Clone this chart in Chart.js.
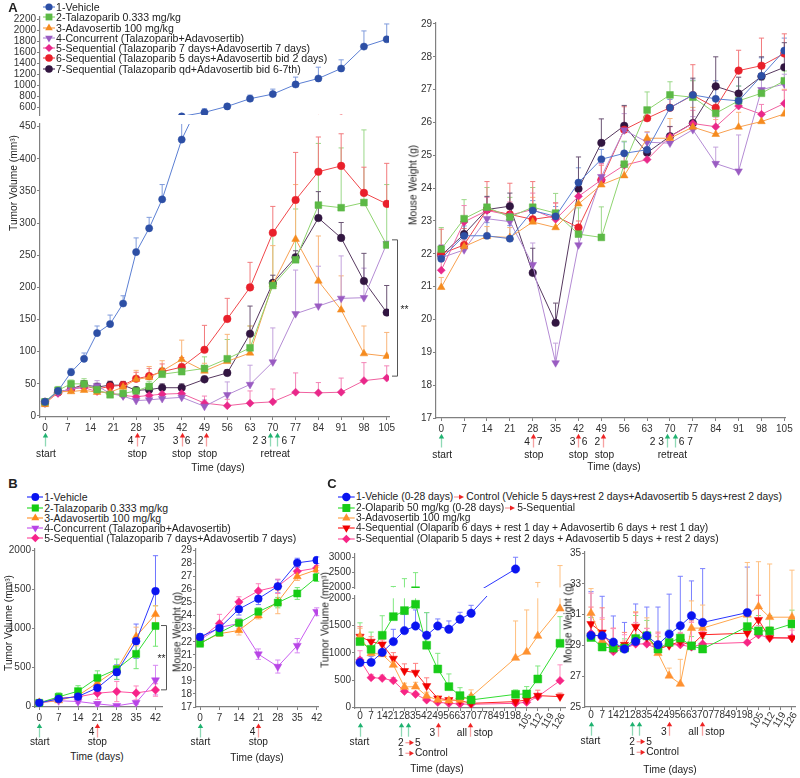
<!DOCTYPE html>
<html>
<head>
<meta charset="utf-8">
<script src="https://cdn.jsdelivr.net/npm/chart.js@4.4.1/dist/chart.umd.min.js"></script>
<style>
  body { margin: 0; background: #fff; font-family: "Liberation Sans", Arial, sans-serif; color: #222; }
  #fig { position: relative; width: 800px; height: 778px; overflow: hidden; }
  #fig canvas { position: absolute; }
  .t { position: absolute; white-space: nowrap; font-size: 10.2px; color: #222; }
  .yt { transform: translate(-50%, -50%) rotate(-90deg); }
  .xt { transform: translate(-50%, -50%); }
  .pl { position: absolute; font-weight: bold; font-size: 13px; transform: translate(-50%, -50%); }
  .lg { position: absolute; white-space: nowrap; color: #222; }
  .lg div { position: absolute; left: 0; height: 10px; line-height: 10px; display: flex; align-items: center; }
  .lg svg { flex: none; margin-right: 1px; }
</style>
</head>
<body>
<div id="fig"></div>
<script>
// ---------- panel A : talazoparib + adavosertib ----------
const daysA = [0, 4, 8, 12, 16, 20, 24, 28, 32, 36, 42, 49, 56, 63, 70, 77, 84, 91, 98, 105];
const weeksA = [0, 7, 14, 21, 28, 35, 42, 49, 56, 63, 70, 77, 84, 91, 98, 105];
const namesA = [
  '1-Vehicle',
  '2-Talazoparib 0.333 mg/kg',
  '3-Adavosertib 100 mg/kg',
  '4-Concurrent (Talazoparib+Adavosertib)',
  '5-Sequential (Talazoparib 7 days+Adavosertib 7 days)',
  '6-Sequential (Talazoparib 5 days+Adavosertib bid 2 days)',
  '7-Sequential (Talazoparib qd+Adavosertib bid 6-7th)'
];
const volA = [
  [22, 39, 68, 89, 129, 143, 175, 255, 292, 337, 430, 503, 612, 752, 836, 1012, 1121, 1303, 1703, 1836],
  [22, 40, 50, 50, 41, 33, 35, 39, 46, 65, 69, 74, 89, 106, 203, 243, 328, 324, 332, 266],
  [18, 38, 38, 40, 37, 37, 45, 57, 60, 70, 88, 70, 85, 98, 205, 275, 210, 165, 97, 93],
  [20, 37, 42, 46, 47, 35, 31, 24, 25, 27, 29, 15, 33, 49, 84, 159, 171, 183, 184, 268],
  [22, 35, 42, 44, 38, 36, 32, 30, 32, 34, 35, 20, 16, 20, 22, 37, 36, 37, 55, 59],
  [20, 37, 42, 47, 42, 46, 48, 58, 62, 69, 76, 103, 151, 200, 285, 336, 380, 389, 347, 330],
  [22, 37, 42, 49, 45, 48, 48, 40, 41, 44, 44, 57, 67, 128, 207, 247, 308, 277, 210, 161]
];
const volErrA = [
  [3, 5, 6, 9, 11, 14, 12, 22, 17, 23, 39, 67, 43, 66, 91, 134, 206, 158, 285, 279],
  [3, 6, 6, 8, 7, 5, 5, 6, 8, 10, 12, 18, 30, 34, 85, 79, 96, 93, 113, 94],
  [3, 5, 5, 6, 6, 6, 8, 14, 17, 16, 30, 12, 42, 42, 60, 85, 70, 53, 43, 37],
  [3, 5, 6, 6, 8, 5, 4, 5, 5, 5, 6, 10, 20, 30, 53, 68, 62, 66, 46, 4],
  [3, 4, 5, 5, 5, 4, 4, 5, 5, 5, 6, 11, 10, 19, 20, 30, 16, 22, 28, 19],
  [3, 5, 6, 8, 8, 8, 6, 10, 12, 12, 15, 38, 32, 39, 41, 74, 54, 50, 40, 63],
  [3, 4, 5, 6, 6, 6, 5, 5, 6, 6, 6, 5, 5, 43, 12, 10, 41, 24, 43, 42]
];
const wtA = [
  [21.85, 22.55, 22.55, 22.46, 23.32, 23.14, 24.17, 24.88, 25.06, 25.17, 26.45, 26.84, 26.72, 26.66, 27.42, 28.19],
  [22.14, 23.07, 23.42, 23.12, 23.42, 23.24, 22.6, 22.5, 24.73, 26.38, 26.84, 26.77, 26.28, 26.66, 26.89, 27.27],
  [20.98, 22.22, 22.53, 22.5, 22.97, 22.8, 23.52, 24.1, 24.38, 25.52, 25.52, 25.86, 25.64, 25.86, 26.03, 26.26],
  [21.88, 22.12, 23.07, 22.98, 21.67, 18.68, 22.27, 24.35, 25.77, 25.4, 25.37, 25.78, 24.75, 24.52, 27.0, 27.17],
  [21.5, 22.97, 23.32, 23.18, 23.35, 23.05, 23.75, 24.25, 24.7, 24.87, 25.57, 25.97, 25.87, 26.5, 26.25, 26.58],
  [22.0, 22.27, 23.35, 23.2, 23.05, 23.15, 22.8, 24.25, 25.78, 26.13, 26.45, 26.83, 26.45, 27.58, 27.73, 28.1],
  [21.95, 22.6, 23.35, 23.45, 21.42, 19.9, 23.98, 25.38, 25.9, 25.08, 25.58, 25.98, 27.1, 26.88, 27.4, 27.68]
];
const wtErrA = [
  [0.3, 0.3, 0.4, 0.4, 0.3, 0.3, 0.45, 0.3, 0.35, 0.3, 0.25, 0.45, 0.55, 0.45, 0.55, 0.38],
  [0.66, 0.58, 0.6, 0.6, 0.6, 0.6, 0.8, 0.93, 0.7, 0.55, 0.4, 0.5, 0.5, 0.45, 0.4, 0.3],
  [0.3, 0.2, 0.3, 0.3, 0.75, 0.3, 0.4, 0.3, 0.3, 0.2, 0.6, 0.6, 0.45, 0.45, 0.27, 0.75],
  [0.4, 0.3, 0.3, 0.3, 0.66, 0.6, 0.5, 0.4, 0.5, 0.3, 0.3, 0.4, 0.5, 1.1, 0.3, 0.3],
  [0.3, 0.5, 0.4, 0.4, 0.5, 0.5, 0.4, 0.5, 0.4, 0.3, 0.3, 0.4, 0.3, 0.4, 0.3, 0.4],
  [0.75, 0.5, 0.85, 0.95, 1.15, 0.4, 0.2, 0.45, 0.7, 0.3, 0.35, 0.93, 0.3, 0.62, 0.84, 0.6],
  [0.3, 0.35, 0.4, 0.4, 0.75, 0.6, 0.97, 0.73, 0.62, 0.3, 0.3, 1.37, 0.9, 0.5, 0.6, 0.75]
];

// ---------- panel B ----------
const daysB = [0, 7, 14, 21, 28, 35, 42];
const namesB = [
  '1-Vehicle',
  '2-Talazoparib 0.333 mg/kg',
  '3-Adavosertib 100 mg/kg',
  '4-Concurrent (Talazoparib+Adavosertib)',
  '5-Sequential (Talazoparib 7 days+Adavosertib 7 days)'
];
const volB = [
  [43, 94, 124, 236, 437, 835, 1478],
  [43, 120, 193, 364, 475, 672, 1030],
  [48, 73, 137, 300, 471, 895, 1180],
  [45, 70, 60, 30, 5, 45, 335],
  [45, 103, 120, 167, 188, 170, 208]
];
const volErrB = [
  [20, 25, 40, 55, 95, 220, 455],
  [20, 50, 70, 90, 130, 190, 260],
  [15, 20, 30, 40, 50, 120, 110],
  [15, 20, 25, 30, 10, 20, 190],
  [15, 30, 60, 80, 130, 90, 80]
];
const wtB = [
  [22.37, 23.05, 24.5, 25.3, 26.25, 28.05, 28.25],
  [21.85, 22.7, 23.45, 24.3, 25.0, 25.7, 26.93],
  [21.9, 22.62, 22.87, 24.0, 25.05, 27.0, 27.52],
  [22.15, 23.1, 23.4, 21.05, 20.1, 21.7, 24.3],
  [22.2, 23.4, 25.05, 25.9, 26.25, 27.4, 27.65]
];
const wtErrB = [
  [0.25, 0.4, 0.45, 0.45, 0.5, 0.35, 0.25],
  [0.15, 0.2, 0.3, 0.3, 0.4, 0.45, 0.3],
  [0.15, 0.2, 0.35, 0.25, 0.9, 0.3, 0.2],
  [0.2, 0.3, 0.4, 0.4, 0.5, 0.55, 0.3],
  [0.2, 0.7, 0.4, 0.55, 0.55, 0.35, 0.2]
];

// ---------- panel C : olaparib + adavosertib ----------
const daysCVehicle = [0, 7, 14, 21, 28, 35, 42, 49, 56, 63, 70, 98];
const daysC = [0, 7, 14, 21, 28, 35, 42, 49, 56, 63, 70, 98, 105, 112, 126];
const tickDaysC = [0, 7, 14, 21, 28, 35, 42, 49, 56, 63, 70, 77, 84, 91, 98, 105, 112, 119, 126];
const namesC = [
  '1-Vehicle (0-28 days) →Control (Vehicle 5 days+rest 2 days+Adavosertib 5 days+rest 2 days)',
  '2-Olaparib 50 mg/kg (0-28 days) →5-Sequential',
  '3-Adavosertib 100 mg/kg',
  '4-Sequential (Olaparib 6 days + rest 1 day + Adavosertib 6 days + rest 1 day)',
  '5-Sequential (Olaparib 5 days + rest 2 days + Adavosertib 5 days + rest 2 days)'
];
const volC = [
  [820, 825, 1009, 1205, 1407, 1492, 1321, 1492, 1431, 1615, 1725, 2610],
  [1205, 1064, 1321, 1663, 1774, 1890, 1138, 703, 379, 214, 135, 238, 245, 520, 1174],
  [1300, 990, 972, 777, 373, 379, 208, 135, 122, 135, 196, 905, 1015, 1309, 1810],
  [1297, 1205, 1156, 893, 667, 636, 391, 165, 135, 122, 73, 104, 135, 214, 196],
  [868, 544, 532, 489, 294, 239, 135, 92, 73, 61, 55, 73, 92, 196, 489]
];
const volErrC = [
  [90, 110, 130, 226, 299, 294, 416, 129, 153, 128, 146, 390],
  [345, 316, 359, 367, 516, 600, 599, 287, 233, 146, 100, 80, 135, 238, 489],
  [150, 60, 40, 60, 70, 80, 70, 50, 40, 60, 124, 679, 771, 855, 914],
  [183, 90, 80, 110, 130, 170, 150, 30, 30, 30, 30, 30, 40, 100, 65],
  [170, 60, 60, 55, 40, 35, 30, 20, 15, 15, 10, 20, 20, 30, 290]
];
const wtC = [
  [29.65, 29.64, 29.22, 28.77, 29.26, 29.63, 29.05, 29.74, 30.28, 30.93, 30.5, 31.14],
  [29.52, 28.9, 28.83, 28.83, 29.45, 29.63, 28.77, 29.2, 29.48, 28.98, 28.77, 30.23, 29.95, 29.95, 30.4],
  [31.1, 29.3, 28.9, 28.8, 29.5, 29.6, 28.5, 27.03, 26.5, 30.13, 30.13, 31.0, 31.53, 30.84, 30.84],
  [30.4, 29.85, 28.83, 29.05, 30.23, 29.52, 28.77, 29.0, 29.26, 29.0, 29.7, 29.8, 30.67, 29.5, 29.48],
  [29.8, 29.5, 28.6, 28.8, 29.1, 29.1, 28.77, 29.05, 29.05, 28.9, 29.1, 29.2, 29.7, 29.5, 29.5]
];
const wtErrC = [
  [2.85, 2.56, 1.7, 1.73, 2.44, 1.87, 2.45, 2.6, 3.22, 2.27, 3.5, 2.96],
  [1.3, 0.8, 0.6, 0.6, 1.5, 1.0, 0.8, 0.8, 0.7, 0.6, 0.7, 1.0, 1.0, 1.0, 0.9],
  [1.6, 1.4, 1.2, 0.5, 1.7, 1.2, 1.1, 0.5, 1.6, 1.77, 1.5, 3.4, 2.92, 3.46, 3.06],
  [1.1, 1.6, 1.3, 0.8, 0.9, 0.6, 1.1, 0.6, 0.5, 1.6, 0.5, 0.4, 1.6, 0.7, 0.7],
  [2.6, 1.3, 1.5, 0.9, 1.4, 1.0, 1.0, 0.8, 0.8, 1.6, 0.8, 0.6, 0.6, 0.6, 0.5]
];

// ---------- styles ----------
const styleA = [
  {line: '#5b7fd3', dot: '#2d4fa5', err: '#7f9bdc', shape: 'circle', r: 3.6},
  {line: '#8ed46f', dot: '#5cb946', err: '#9bd889', shape: 'rect', r: 4.8},
  {line: '#f8a050', dot: '#f58b1f', err: '#f9b57a', shape: 'triangle', r: 4.4},
  {line: '#b48bd4', dot: '#9a5cc2', err: '#c3a2dc', shape: 'triangle', rot: 180, r: 4.4},
  {line: '#f0609f', dot: '#e9288a', err: '#f384b6', shape: 'rectRot', r: 4},
  {line: '#f0464a', dot: '#e9202b', err: '#f27a7d', shape: 'circle', r: 3.8},
  {line: '#56385f', dot: '#321641', err: '#6b5474', shape: 'circle', r: 3.8}
];
const styleB = [
  {line: '#2a35ff', dot: '#0a14f0', err: '#6f76ff', shape: 'circle', r: 3.9},
  {line: '#33dc33', dot: '#14cc14', err: '#74e674', shape: 'rect', r: 5},
  {line: '#ff9a3a', dot: '#ff8a1c', err: '#ffb878', shape: 'triangle', r: 4.6},
  {line: '#c95cf0', dot: '#b845e6', err: '#d78af3', shape: 'triangle', rot: 180, r: 4.6},
  {line: '#ff4fa0', dot: '#f7238a', err: '#ff86bd', shape: 'rectRot', r: 4.2}
];
const styleC = [
  {line: '#2a35ff', dot: '#0a14f0', err: '#7a80ff', shape: 'circle', r: 4.2},
  {line: '#33dd33', dot: '#18cc18', err: '#80e880', shape: 'rect', r: 5.6},
  {line: '#ffa64d', dot: '#ff9130', err: '#ffc080', shape: 'triangle', r: 4.8},
  {line: '#ff2020', dot: '#f00000', err: '#ff8080', shape: 'triangle', rot: 180, r: 4.8},
  {line: '#ff4f9a', dot: '#f72585', err: '#ff90c0', shape: 'rectRot', r: 4.2}
];
const GREEN = ['#8fd9b6', '#1fb270'];
const RED = ['#f7a1a1', '#ee2424'];

Chart.defaults.font.family = '"Liberation Sans", Arial, sans-serif';
Chart.defaults.font.size = 10;
Chart.defaults.color = '#333';

const fig = document.getElementById('fig');

function makeSets(dayLists, vals, errs, styles) {
  return vals.map((row, k) => ({
    data: row.map((v, i) => ({x: dayLists[k][i], y: v})),
    errs: errs[k],
    errColor: styles[k].err,
    borderColor: styles[k].line,
    borderWidth: 1,
    pointStyle: styles[k].shape,
    pointRotation: styles[k].rot || 0,
    pointRadius: styles[k].r,
    pointBackgroundColor: styles[k].dot,
    pointBorderColor: styles[k].dot,
    pointBorderWidth: 0.5,
    tension: 0,
    fill: false
  }));
}

// error bars, clipped to each scale's value range (broken axes are two charts);
// "lim" hands the part of a bar above the break over to the upper chart
const errPlugin = {
  id: 'errbars',
  beforeDatasetsDraw(chart) {
    const ctx = chart.ctx, ys = chart.scales.y;
    const o = chart.options.plugins.errbars;
    const both = o.mode === 'both';
    const yMin = o.from !== undefined ? Math.max(ys.min, o.from) : ys.min;
    const yMax = o.to !== undefined ? Math.min(ys.max, o.to) : ys.max;
    chart.data.datasets.forEach((ds, k) => {
      const meta = chart.getDatasetMeta(k);
      ctx.save();
      ctx.strokeStyle = ds.errColor;
      ctx.lineWidth = 1;
      ds.data.forEach((p, i) => {
        const e = ds.errs[i];
        const lo = both ? p.y - e : p.y, hi = p.y + e;
        const a = Math.max(lo, yMin), b = Math.min(hi, yMax);
        if (a >= b) return;
        const x = meta.data[i].x;
        ctx.beginPath();
        ctx.moveTo(x, ys.getPixelForValue(a));
        ctx.lineTo(x, ys.getPixelForValue(b));
        if (hi <= yMax) {
          const y = ys.getPixelForValue(hi);
          ctx.moveTo(x - 2.6, y); ctx.lineTo(x + 2.6, y);
        }
        if (both && lo >= yMin) {
          const y = ys.getPixelForValue(lo);
          ctx.moveTo(x - 2.6, y); ctx.lineTo(x + 2.6, y);
        }
        ctx.stroke();
      });
      ctx.restore();
    });
  }
};

// treatment arrows, notes under the time axis, significance bracket, slanted ticks
const marksPlugin = {
  id: 'marks',
  afterDraw(chart) {
    const m = chart.options.plugins.marks;
    if (!m || !m.on) return;
    const ctx = chart.ctx, xs = chart.scales.x, ys = chart.scales.y, a = chart.chartArea;
    ctx.save();
    ctx.font = '10.2px "Liberation Sans", Arial, sans-serif';
    ctx.textBaseline = 'middle';
    (m.up || []).forEach(([d, col]) => {
      const x = Math.round(xs.getPixelForValue(d)) + 0.5;
      const yh = a.bottom + m.upY[0], yt = a.bottom + m.upY[1];
      ctx.strokeStyle = col[0]; ctx.lineWidth = 1.3;
      ctx.beginPath(); ctx.moveTo(x, yt); ctx.lineTo(x, yh + 3); ctx.stroke();
      ctx.fillStyle = col[1];
      ctx.beginPath(); ctx.moveTo(x, yh); ctx.lineTo(x - 2.7, yh + 4.6); ctx.lineTo(x + 2.7, yh + 4.6); ctx.closePath(); ctx.fill();
    });
    (m.right || []).forEach(([d, dx, dy]) => {
      const x = xs.getPixelForValue(d) + dx, y = a.bottom + dy;
      ctx.strokeStyle = RED[0]; ctx.lineWidth = 1.3;
      ctx.beginPath(); ctx.moveTo(x, y); ctx.lineTo(x + 5, y); ctx.stroke();
      ctx.fillStyle = RED[1];
      ctx.beginPath(); ctx.moveTo(x + 8.5, y); ctx.lineTo(x + 4, y - 2.6); ctx.lineTo(x + 4, y + 2.6); ctx.closePath(); ctx.fill();
    });
    ctx.fillStyle = '#222';
    (m.txt || []).forEach(([s, d, dx, dy, al]) => {
      ctx.textAlign = al || 'center';
      ctx.fillText(s, xs.getPixelForValue(d) + dx, a.bottom + dy);
    });
    if (m.bracket) {
      const [dx, v1, v2, sdx] = m.bracket;
      const x = a.right + dx, y1 = ys.getPixelForValue(v1), y2 = ys.getPixelForValue(v2);
      ctx.strokeStyle = '#555'; ctx.lineWidth = 1;
      ctx.beginPath();
      ctx.moveTo(x - 5, y1); ctx.lineTo(x + 0.5, y1); ctx.lineTo(x + 0.5, y2); ctx.lineTo(x - 5, y2);
      ctx.stroke();
      ctx.textAlign = 'center';
      ctx.fillText('**', x + sdx, (y1 + y2) / 2 + 2);
    }
    if (m.rot) {
      ctx.fillStyle = '#333';
      ctx.font = '10px "Liberation Sans", Arial, sans-serif';
      m.rot.forEach(v => {
        ctx.save();
        ctx.translate(xs.getPixelForValue(v) + 3, a.bottom + 6);
        ctx.rotate(-Math.PI * 0.33);
        ctx.textAlign = 'right';
        ctx.fillText(String(v), 0, 0);
        ctx.restore();
      });
    }
    ctx.restore();
  }
};

function axis(min, max, ticks, opt) {
  return {
    type: 'linear', min: min, max: max, display: opt.show !== false,
    afterBuildTicks: s => { s.ticks = ticks.map(v => ({value: v})); },
    border: {display: true, color: '#808080', width: 1.2},
    grid: {display: true, drawOnChartArea: false, drawTicks: true, tickLength: 3, color: '#808080', tickColor: '#808080'},
    ticks: {
      autoSkip: false, maxRotation: 0, minRotation: 0, padding: opt.pad === undefined ? 1 : opt.pad,
      color: '#333', font: {size: 10},
      callback: opt.cb || (v => String(v))
    }
  };
}

function makeChart(box, pads, datasets, xAx, yAx, marks, errOpts) {
  const [l, t, r, b] = box;
  const [pl, pt, pr, pb] = pads;
  const hidden = xAx.display === false;
  const cv = document.createElement('canvas');
  cv.width = Math.round(r - l + pl + pr);
  cv.height = Math.round(b - t + pt + pb);
  cv.style.left = (l - pl) + 'px';
  cv.style.top = (t - pt) + 'px';
  fig.appendChild(cv);
  if (!hidden) xAx.afterFit = s => { s.height = pb; };
  yAx.afterFit = s => { s.width = pl; };
  return new Chart(cv, {
    type: 'line',
    data: {datasets: datasets},
    options: {
      responsive: false, animation: false, events: [],
      layout: {padding: {left: 0, top: pt, right: pr, bottom: hidden ? pb : 0}},
      plugins: {
        legend: {display: false}, tooltip: {enabled: false},
        errbars: errOpts || {mode: 'up'},
        marks: marks || {on: false}
      },
      scales: {x: xAx, y: yAx}
    },
    plugins: [errPlugin, marksPlugin]
  });
}

const range = (a, b, s) => { const out = []; for (let v = a; v <= b + 1e-9; v += s) out.push(v); return out; };
const listA = namesA.map(() => daysA);
const listWA = namesA.map(() => weeksA);
const listB = namesB.map(() => daysB);
const listC = namesC.map((n, i) => i === 0 ? daysCVehicle : daysC);

// notes under the A time axes
const notesA = {
  on: true,
  upY: [15.8, 29.5],
  up: [[0, GREEN], [28.2, RED], [42, RED], [49.5, RED], [69.2, GREEN], [71.4, GREEN]],
  txt: [
    ['4', 28.2, -6.3, 24.5], ['7', 28.2, 6.3, 24.5],
    ['3', 42, -6, 24.5], ['6', 42, 6, 24.5],
    ['2', 49.5, -5.6, 24.5],
    ['2 3', 69.2, -3.5, 24.5, 'right'], ['6 7', 71.4, 4.2, 24.5, 'left'],
    ['start', 0, 1, 37], ['stop', 28.2, 0.5, 37], ['stop', 42, 0, 37], ['stop', 49.5, 1.5, 37],
    ['retreat', 69.2, 5, 37]
  ]
};

// A : tumour volume, upper and lower part of the broken axis
makeChart([40, 17, 389, 115.3], [40, 10, 24, 8], makeSets(listA, volA, volErrA, styleA),
  axis(-1.54, 105.7, weeksA, {show: false}),
  axis(455, 2242, range(600, 2200, 200), {}));
makeChart([40, 124, 389, 416.7], [40, 10, 24, 44], makeSets(listA, volA, volErrA, styleA),
  axis(-1.54, 105.7, weeksA, {pad: 2}),
  axis(-1.56, 454.2, range(0, 450, 50), {}),
  Object.assign({bracket: [8, 62, 274, 7.5]}, notesA));
// A : mouse weight
makeChart([436, 23, 785, 418.3], [40, 10, 14, 44], makeSets(listWA, wtA, wtErrA, styleA),
  axis(-1.6, 105.2, weeksA, {pad: 2}),
  axis(17, 29.03, range(17, 29, 1), {}),
  notesA);

// B
const notesB = {
  on: true,
  upY: [16.5, 30.5],
  up: [[0, GREEN], [21, RED]],
  txt: [['4', 21, -5.8, 25], ['start', 0, 0.5, 35.5], ['stop', 21, 0, 35.5]]
};
makeChart([35, 548.5, 162, 706.5], [40, 10, 14, 40], makeSets(listB, volB, volErrB, styleB),
  axis(-1.55, 44.35, daysB, {pad: 2}),
  axis(-10.3, 2019, [0, 500, 1000, 1500, 2000], {}),
  Object.assign({bracket: [4, 210, 1036, -4.5]}, notesB), {mode: 'both'});
makeChart([196, 548.5, 318, 706.7], [40, 10, 14, 40], makeSets(listB, wtB, wtErrB, styleB),
  axis(-1.44, 42.47, daysB, {pad: 2}),
  axis(17, 29.11, range(17, 29, 1), {}),
  notesB, {mode: 'both'});

// C
const cbC = v => (v <= 98 ? String(v) : '');
const notesC = {
  on: true,
  upY: [14.7, 28.7],
  up: [[0, GREEN], [25.8, GREEN], [30.4, GREEN], [49, RED], [69.6, RED]],
  right: [[25.8, 4.5, 34.7], [25.8, 4.5, 45.3]],
  txt: [
    ['3', 49, -5.4, 24.7], ['all', 69.6, -3.5, 24.7, 'right'], ['stop', 69.6, 3.3, 24.7, 'left'],
    ['start', 0, -0.5, 33.7],
    ['2', 25.8, 0, 34.7], ['5', 25.8, 14, 34.7, 'left'],
    ['1', 25.8, 0, 45.3], ['Control', 25.8, 14, 45.3, 'left']
  ],
  rot: [105, 112, 119, 126]
};
makeChart([355, 554, 565, 588.3], [40, 10, 14, 8], makeSets(listC, volC, volErrC, styleC),
  axis(-3.15, 129.15, tickDaysC, {show: false}),
  axis(1980, 3108, [2000, 2500, 3000], {}),
  null, {mode: 'up', from: 2000});
makeChart([355, 596, 565, 708], [40, 10, 14, 52], makeSets(listC, volC, volErrC, styleC),
  axis(-3.15, 129.15, tickDaysC, {pad: -1, cb: cbC}),
  axis(-13, 2042, [0, 500, 1000, 1500, 2000], {}),
  notesC, {mode: 'up', to: 2000});
makeChart([585, 552, 795, 707.3], [40, 10, 10, 52], makeSets(listC, wtC, wtErrC, styleC),
  axis(-3.76, 127.9, tickDaysC, {pad: -1, cb: cbC}),
  axis(25, 35.08, [25, 27, 29, 31, 33, 35], {}),
  notesC);

// ---------- legends and titles (html text) ----------
function markSvg(st, w) {
  const c = w / 2, y = 5, r = st.r;
  let s;
  if (st.shape === 'circle') {
    s = `<circle cx="${c}" cy="${y}" r="${r}" fill="${st.dot}"/>`;
  } else if (st.shape === 'rect') {
    const h = r * Math.SQRT1_2;
    s = `<rect x="${c - h}" y="${y - h}" width="${2 * h}" height="${2 * h}" fill="${st.dot}"/>`;
  } else if (st.shape === 'triangle') {
    const k = st.rot ? -1 : 1;
    s = `<polygon points="${c},${y - k * r} ${c - r * 0.866},${y + k * r / 2} ${c + r * 0.866},${y + k * r / 2}" fill="${st.dot}"/>`;
  } else {
    s = `<polygon points="${c},${y - r} ${c + r},${y} ${c},${y + r} ${c - r},${y}" fill="${st.dot}"/>`;
  }
  return `<svg width="${w}" height="10"><line x1="0" y1="5" x2="${w}" y2="5" stroke="${st.line}" stroke-width="1.2"/>${s}</svg>`;
}
const arrowSvg = `<svg width="11" height="10" style="margin:0 1px 0 1px"><line x1="0" y1="5" x2="6" y2="5" stroke="${RED[0]}" stroke-width="1.3"/><polygon points="10,5 5,2.4 5,7.6" fill="${RED[1]}"/></svg>`;

function legend(x, y, step, w, names, styles, size) {
  const box = document.createElement('div');
  box.className = 'lg';
  box.style.left = x + 'px';
  box.style.top = (y - 5) + 'px';
  box.style.fontSize = size + 'px';
  names.forEach((n, i) => {
    const row = document.createElement('div');
    row.style.top = (i * step) + 'px';
    row.innerHTML = markSvg(styles[i], w) + '<span>' + n.split('→').join('</span>' + arrowSvg + '<span>') + '</span>';
    box.appendChild(row);
  });
  fig.appendChild(box);
}
legend(43, 7, 10.25, 12, namesA, styleA, 10.6);
legend(26.7, 497.3, 10.25, 16.6, namesB, styleB, 10.5);
legend(338.3, 497.3, 10.4, 16.7, namesC, styleC, 10.3);

const texts = [
  ['A', 13, 7, 'pl'], ['B', 13, 483, 'pl'], ['C', 332, 483, 'pl'],
  ['Tumor Volume (mm³)', 13, 183, 't yt'], ['Mouse Weight (g)', 413, 185, 't yt'],
  ['Tumor Volume (mm³)', 8, 623, 't yt'], ['Mouse Weight (g)', 177, 632, 't yt'],
  ['Tumor Volume (mm³)', 325, 620, 't yt'], ['Mouse Weight (g)', 568, 623, 't yt'],
  ['Time (days)', 218, 467, 't xt'], ['Time (days)', 614, 466, 't xt'],
  ['Time (days)', 97, 756, 't xt'], ['Time (days)', 257, 757, 't xt'],
  ['Time (days)', 437, 767.5, 't xt'], ['Time (days)', 670, 769, 't xt']
];
texts.forEach(([s, x, y, cls]) => {
  const d = document.createElement('div');
  d.className = cls;
  d.style.left = x + 'px';
  d.style.top = y + 'px';
  d.textContent = s;
  fig.appendChild(d);
});
</script>
</body>
</html>
